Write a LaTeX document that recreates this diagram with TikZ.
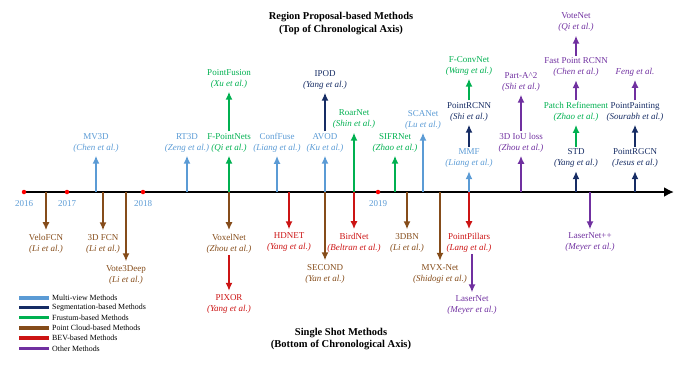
\documentclass[tikz,border=0pt]{standalone}
\usepackage{fontspec}
\setmainfont{Liberation Serif}
\usepackage{xcolor}
\usetikzlibrary{arrows.meta, positioning, calc}
\definecolor{mvBlue}{RGB}{91, 155, 213}
\definecolor{segNavy}{RGB}{22, 44, 100}
\definecolor{frGreen}{RGB}{0, 176, 80}
\definecolor{pcBrown}{RGB}{133, 76, 26}
\definecolor{bevRed}{RGB}{204, 20, 20}
\definecolor{otPurple}{RGB}{112, 48, 160}

\begin{document}
\begin{tikzpicture}[
        x=1pt, y=-1pt,
        font=\fontsize{9}{11}\selectfont,
        method/.style={align=center, inner sep=1.5pt},
        arrow/.style={->, >={Latex[length=8pt, width=7pt]}, line width=1.7pt, shorten >=2pt},
        axis/.style={->, >={Latex[length=10pt, width=10pt]}, line width=2.4pt, black},
        yeardot/.style={circle, fill=red, inner sep=0pt, minimum size=4.5pt},
        yearlbl/.style={text=mvBlue, inner sep=1pt},
        legline/.style={line width=3.2pt},
        leglbl/.style={anchor=west, inner sep=0pt, font=\fontsize{7.9}{8}\selectfont},
        title/.style={align=center, font=\fontsize{10.5}{12.5}\selectfont\bfseries}
    ]
        \useasboundingbox (0,0) rectangle (692,365);
        % titles
        \node[title] (toptitle) at (341,23.5) {Region Proposal-based Methods\\(Top of Chronological Axis)};
        \node[title] (bottitle) at (341,339) {Single Shot Methods\\(Bottom of Chronological Axis)};
        % chronological axis
        \coordinate (t0) at (24,192);
        \coordinate (tend) at (674,192);
        \draw[axis] (t0) -- (tend);
        \node[yeardot] (y16) at (24,192) {};
        \node[yeardot] (y17) at (67,192) {};
        \node[yeardot] (y18) at (143,192) {};
        \node[yeardot] (y19) at (378,192) {};
        \node[yearlbl, below=5pt of y16] {2016};
        \node[yearlbl, below=5pt of y17] {2017};
        \node[yearlbl, below=5pt of y18] {2018};
        \node[yearlbl, below=5pt of y19] {2019};
        % top: region proposal-based
        \node[method, text=mvBlue] (mv3d) at (96,142.5) {MV3D\\\textit{(Chen et al.)}};
        \node[method, text=mvBlue] (rt3d) at (187,142.5) {RT3D\\\textit{(Zeng et al.)}};
        \node[method, text=frGreen] (fpointnets) at (229,142.5) {F-PointNets\\\textit{(Qi et al.)}};
        \node[method, text=frGreen] (pointfusion) at (229,78.5) {PointFusion\\\textit{(Xu et al.)}};
        \node[method, text=mvBlue] (conffuse) at (277,142.5) {ConfFuse\\\textit{(Liang et al.)}};
        \node[method, text=mvBlue] (avod) at (325,142.5) {AVOD\\\textit{(Ku et al.)}};
        \node[method, text=segNavy] (ipod) at (325,79.5) {IPOD\\\textit{(Yang et al.)}};
        \node[method, text=frGreen] (roarnet) at (354,119.5) {RoarNet\\\textit{(Shin et al.)}};
        \node[method, text=frGreen] (sifrnet) at (395,142.5) {SIFRNet\\\textit{(Zhao et al.)}};
        \node[method, text=mvBlue] (scanet) at (423,119.5) {SCANet\\\textit{(Lu et al.)}};
        \node[method, text=mvBlue] (mmf) at (469,158) {MMF\\\textit{(Liang et al.)}};
        \node[method, text=segNavy] (pointrcnn) at (469,111.5) {PointRCNN\\\textit{(Shi et al.)}};
        \node[method, text=frGreen] (fconvnet) at (469,65.5) {F-ConvNet\\\textit{(Wang et al.)}};
        \node[method, text=otPurple] (iouloss) at (521,142.5) {3D IoU loss\\\textit{(Zhou et al.)}};
        \node[method, text=otPurple] (parta2) at (521,81.5) {Part-A\textasciicircum 2\\\textit{(Shi et al.)}};
        \node[method, text=segNavy] (std) at (576,158) {STD\\\textit{(Yang et al.)}};
        \node[method, text=frGreen] (patchref) at (576,111.5) {Patch Refinement\\\textit{(Zhao et al.)}};
        \node[method, text=otPurple] (fastpointrcnn) at (576,67) {Fast Point RCNN\\\textit{(Chen et al.)}};
        \node[method, text=otPurple] (votenet) at (576,22.5) {VoteNet\\\textit{(Qi et al.)}};
        \node[method, text=segNavy] (pointrgcn) at (635,158) {PointRGCN\\\textit{(Jesus et al.)}};
        \node[method, text=segNavy] (pointpainting) at (635,111.5) {PointPainting\\\textit{(Sourabh et al.)}};
        \node[method, text=otPurple] (feng) at (635,72) {\textit{Feng et al.}};
        % bottom: single shot
        \node[method, text=pcBrown] (velofcn) at (46,243.5) {VeloFCN\\\textit{(Li et al.)}};
        \node[method, text=pcBrown] (fcn3d) at (103,243.5) {3D FCN\\\textit{(Li et al.)}};
        \node[method, text=pcBrown] (vote3deep) at (126,274.5) {Vote3Deep\\\textit{(Li et al.)}};
        \node[method, text=pcBrown] (voxelnet) at (229,243.5) {VoxelNet\\\textit{(Zhou et al.)}};
        \node[method, text=bevRed] (pixor) at (229,304) {PIXOR\\\textit{(Yang et al.)}};
        \node[method, text=bevRed] (hdnet) at (289,242.5) {HDNET\\\textit{(Yang et al.)}};
        \node[method, text=pcBrown] (second) at (325,273.5) {SECOND\\\textit{(Yan et al.)}};
        \node[method, text=bevRed] (birdnet) at (354,242.5) {BirdNet\\\textit{(Beltran et al.)}};
        \node[method, text=pcBrown] (dbn3) at (407,242.5) {3DBN\\\textit{(Li et al.)}};
        \node[method, text=pcBrown] (mvxnet) at (440,274) {MVX-Net\\\textit{(Shidogi et al.)}};
        \node[method, text=bevRed] (pointpillars) at (469,242.5) {PointPillars\\\textit{(Lang et al.)}};
        \node[method, text=otPurple] (lasernet) at (472,305.5) {LaserNet\\\textit{(Meyer et al.)}};
        \node[method, text=otPurple] (lasernetpp) at (590,242.5) {LaserNet++\\\textit{(Meyer et al.)}};
        % arrows up from the axis
        \draw[arrow, mvBlue] (mv3d.south |- t0) -- (mv3d.south);
        \draw[arrow, mvBlue] (rt3d.south |- t0) -- (rt3d.south);
        \draw[arrow, frGreen] (fpointnets.south |- t0) -- (fpointnets.south);
        \draw[arrow, frGreen] (fpointnets) -- (pointfusion);
        \draw[arrow, mvBlue] (conffuse.south |- t0) -- (conffuse.south);
        \draw[arrow, mvBlue] (avod.south |- t0) -- (avod.south);
        \draw[arrow, segNavy] (avod) -- (ipod);
        \draw[arrow, frGreen] (roarnet.south |- t0) -- (roarnet.south);
        \draw[arrow, frGreen] (sifrnet.south |- t0) -- (sifrnet.south);
        \draw[arrow, mvBlue] (scanet.south |- t0) -- (scanet.south);
        \draw[arrow, mvBlue] (mmf.south |- t0) -- (mmf.south);
        \draw[arrow, segNavy] (mmf) -- (pointrcnn);
        \draw[arrow, frGreen] (pointrcnn) -- (fconvnet);
        \draw[arrow, otPurple] (iouloss.south |- t0) -- (iouloss.south);
        \draw[arrow, otPurple] (iouloss) -- (parta2);
        \draw[arrow, segNavy] (std.south |- t0) -- (std.south);
        \draw[arrow, frGreen] (std) -- (patchref);
        \draw[arrow, otPurple] (patchref) -- (fastpointrcnn);
        \draw[arrow, otPurple] (fastpointrcnn) -- (votenet);
        \draw[arrow, segNavy] (pointrgcn.south |- t0) -- (pointrgcn.south);
        \draw[arrow, segNavy] (pointrgcn) -- (pointpainting);
        \draw[arrow, otPurple] (pointpainting) -- (feng);
        % arrows down from the axis
        \draw[arrow, pcBrown] (velofcn.north |- t0) -- (velofcn.north);
        \draw[arrow, pcBrown] (fcn3d.north |- t0) -- (fcn3d.north);
        \draw[arrow, pcBrown] (vote3deep.north |- t0) -- (vote3deep.north);
        \draw[arrow, pcBrown] (voxelnet.north |- t0) -- (voxelnet.north);
        \draw[arrow, bevRed] (voxelnet) -- (pixor);
        \draw[arrow, bevRed] (hdnet.north |- t0) -- (hdnet.north);
        \draw[arrow, pcBrown] (second.north |- t0) -- (second.north);
        \draw[arrow, bevRed] (birdnet.north |- t0) -- (birdnet.north);
        \draw[arrow, pcBrown] (dbn3.north |- t0) -- (dbn3.north);
        \draw[arrow, pcBrown] (mvxnet.north |- t0) -- (mvxnet.north);
        \draw[arrow, bevRed] (pointpillars.north |- t0) -- (pointpillars.north);
        \draw[arrow, otPurple] (pointpillars.south -| lasernet.north) -- (lasernet.north);
        \draw[arrow, otPurple] (lasernetpp.north |- t0) -- (lasernetpp.north);
        % legend
        \node[leglbl] (lgmv) at (52,298) {Multi-view Methods};
        \node[leglbl] (lgseg) at (52,307.5) {Segmentation-based Methods};
        \node[leglbl] (lgfr) at (52,317.5) {Frustum-based Methods};
        \node[leglbl] (lgpc) at (52,328) {Point Cloud-based Methods};
        \node[leglbl] (lgbev) at (52,338) {BEV-based Methods};
        \node[leglbl] (lgot) at (52,348.5) {Other Methods};
        \draw[legline, mvBlue] ([xshift=-3pt]lgmv.west) -- ++(-30,0);
        \draw[legline, segNavy] ([xshift=-3pt]lgseg.west) -- ++(-30,0);
        \draw[legline, frGreen] ([xshift=-3pt]lgfr.west) -- ++(-30,0);
        \draw[legline, pcBrown] ([xshift=-3pt]lgpc.west) -- ++(-30,0);
        \draw[legline, bevRed] ([xshift=-3pt]lgbev.west) -- ++(-30,0);
        \draw[legline, otPurple] ([xshift=-3pt]lgot.west) -- ++(-30,0);
    \end{tikzpicture}
\end{document}
